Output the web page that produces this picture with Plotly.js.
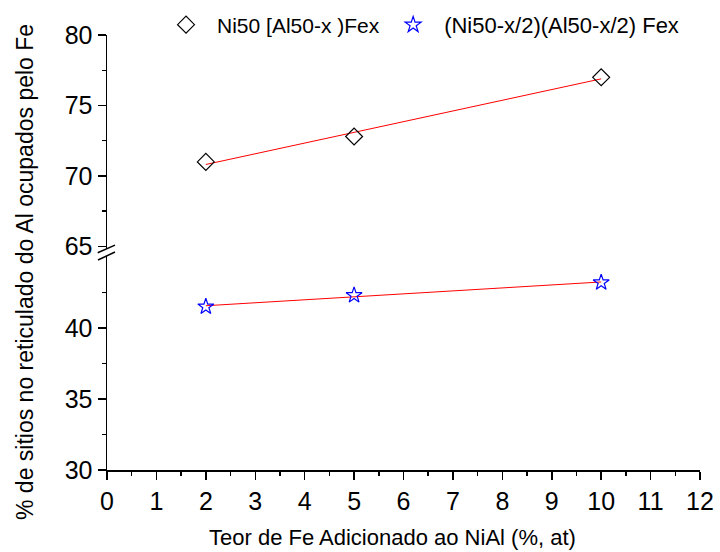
<!DOCTYPE html>
<html>
<head>
<meta charset="utf-8">
<script src="https://cdn.plot.ly/plotly-3.0.1.min.js"></script>
<style>html,body{margin:0;padding:0;background:#fff;}#chart{width:720px;height:552px;}</style>
</head>
<body>
<div id="chart"></div>
<script>
// Data
var feContent = [2, 5, 10];
var upperName = "Ni50 [Al50-x )Fex";
var lowerName = "(Ni50-x/2)(Al50-x/2) Fex";
var upperValues = [71.0, 72.8, 77.0];
var lowerValues = [41.5, 42.3, 43.2];
var xTickVals = [0,1,2,3,4,5,6,7,8,9,10,11,12];
var upperTicks = [65, 70, 75, 80];
var lowerTicks = [30, 35, 40];
var xTitle = 'Teor de Fe Adicionado ao NiAl (%, at)';
var yTitle = '% de sitios no reticulado do Al ocupados pelo Fe';

function linFit(xs, ys) {
  var n = xs.length, mx = 0, my = 0;
  for (var i = 0; i < n; i++) { mx += xs[i]; my += ys[i]; }
  mx /= n; my /= n;
  var sxy = 0, sxx = 0;
  for (var i = 0; i < n; i++) { sxy += (xs[i]-mx)*(ys[i]-my); sxx += (xs[i]-mx)*(xs[i]-mx); }
  var b = sxy/sxx, a = my - b*mx;
  var x0 = Math.min.apply(null, xs), x1 = Math.max.apply(null, xs);
  return {x: [x0, x1], y: [a + b*x0, a + b*x1]};
}
var fitU = linFit(feContent, upperValues);
var fitL = linFit(feContent, lowerValues);

var font = "Liberation Sans, Arial, sans-serif";

var traces = [
  {x: fitU.x, y: fitU.y, xaxis: 'x', yaxis: 'y', mode: 'lines', line: {color: '#ff0000', width: 1}, showlegend: false, hoverinfo: 'skip'},
  {x: fitL.x, y: fitL.y, xaxis: 'x', yaxis: 'y2', mode: 'lines', line: {color: '#ff0000', width: 1}, showlegend: false, hoverinfo: 'skip'},
  {x: feContent, y: upperValues, xaxis: 'x', yaxis: 'y', mode: 'markers', name: upperName, legend: 'legend',
   marker: {symbol: 'diamond-open', size: 13, color: '#000', line: {width: 1.2, color: '#000'}}},
  {x: feContent, y: lowerValues, xaxis: 'x', yaxis: 'y2', mode: 'markers', name: lowerName, legend: 'legend2',
   marker: {symbol: 'star-open', size: 12, color: '#0000ff', line: {width: 1.2, color: '#0000ff'}}}
];

var axisCommon = {
  showline: true, linecolor: '#000', linewidth: 1.5, ticks: 'outside', ticklen: 8, tickwidth: 1.5,
  tickcolor: '#000', showgrid: false, zeroline: false, automargin: false,
  tickfont: {family: font, size: 25, color: '#000'}
};

var legendCommon = {orientation: 'h', xanchor: 'left', y: 1.023, yanchor: 'middle', itemwidth: 52,
  font: {family: font, size: 21, color: '#000'}, bgcolor: 'rgba(0,0,0,0)'};

var layout = {
  width: 720, height: 552,
  margin: {l: 107, r: 20, t: 35, b: 82, autoexpand: false},
  paper_bgcolor: '#fff', plot_bgcolor: '#fff',
  font: {family: font, color: '#000'},
  showlegend: true,
  legend: Object.assign({}, legendCommon, {x: 0.081}),
  legend2: Object.assign({}, legendCommon, {x: 0.464, font: {family: font, size: 22, color: '#000'}}),
  xaxis: Object.assign({}, axisCommon, {
    anchor: 'y2', range: [0, 12], tickvals: xTickVals, ticktext: xTickVals.map(String),
    minor: {dtick: 0.5, tick0: 0, ticks: 'outside', ticklen: 4, tickcolor: '#000', tickwidth: 1.5}
  }),
  yaxis: Object.assign({}, axisCommon, {
    anchor: 'x', domain: [0.508, 1], range: [64.82, 80], tickvals: upperTicks, ticktext: upperTicks.map(String),
    minor: {tickvals: [67.5, 72.5, 77.5], ticks: 'outside', ticklen: 4, tickcolor: '#000', tickwidth: 1.5}
  }),
  yaxis2: Object.assign({}, axisCommon, {
    anchor: 'x', domain: [0, 0.492], range: [30, 45.07], tickvals: lowerTicks, ticktext: lowerTicks.map(String),
    minor: {tickvals: [32.5, 37.5, 42.5], ticks: 'outside', ticklen: 4, tickcolor: '#000', tickwidth: 1.5}
  }),
  shapes: [
    {type: 'line', xref: 'paper', yref: 'paper', x0: -0.0157, y0: 0.4995, x1: 0.0135, y1: 0.517, line: {color: '#000', width: 1.5}},
    {type: 'line', xref: 'paper', yref: 'paper', x0: -0.0152, y0: 0.4828, x1: 0.0135, y1: 0.5011, line: {color: '#000', width: 1.5}}
  ],
  annotations: [
    {text: yTitle, xref: 'paper', yref: 'paper',
     x: (25 - 107) / 593, y: (470 - 272) / 435, xanchor: 'center', yanchor: 'middle', textangle: -90,
     showarrow: false, borderpad: 0, font: {family: font, size: 23, color: '#000'}},
    {text: xTitle, xref: 'paper', yref: 'paper',
     x: (392 - 107) / 593, y: (470 - 537) / 435, xanchor: 'center', yanchor: 'middle',
     showarrow: false, borderpad: 0, font: {family: font, size: 22, color: '#000'}}
  ]
};

Plotly.newPlot('chart', traces, layout, {displayModeBar: false, staticPlot: true});
</script>
</body>
</html>
